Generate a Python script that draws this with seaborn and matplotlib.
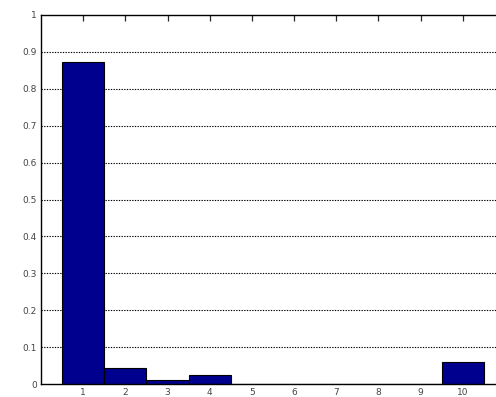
import numpy as np
import pandas as pd
import seaborn as sns
import matplotlib
matplotlib.use("Agg")
import matplotlib.pyplot as plt

# values
bins = [1, 2, 3, 4, 5, 6, 7, 8, 9, 10]
freq = [0.873, 0.043, 0.011, 0.024, 0.0, 0.0, 0.0, 0.0, 0.0, 0.059]
yticks = [0, 0.1, 0.2, 0.3, 0.4, 0.5, 0.6, 0.7, 0.8, 0.9, 1]
ytick_labels = ["0", "0.1", "0.2", "0.3", "0.4", "0.5", "0.6", "0.7", "0.8", "0.9", "1"]

df = pd.DataFrame({"bin": bins, "freq": freq})

sns.set_style("white")
plt.rcParams["font.family"] = ["DejaVu Sans"]

fig = plt.figure(figsize=(4.96, 3.97), dpi=100)
ax = fig.add_axes([41 / 496, 1 - 384 / 397, 464 / 496, 369 / 397])

sns.barplot(data=df, x="bin", y="freq", native_scale=True, width=1.0,
            color="#00008f", saturation=1, edgecolor="black", linewidth=0.8, ax=ax)

ax.set_xlim(0, 11)
ax.set_ylim(0, 1)
ax.set_xticks(bins)
ax.set_xticklabels([str(b) for b in bins])
ax.set_yticks(yticks)
ax.set_yticklabels(ytick_labels)
ax.set_xlabel("")
ax.set_ylabel("")

for y in yticks[1:-1]:
    ax.axhline(y, color="black", linestyle=(0, (1.2, 1.2)), linewidth=0.8, zorder=0)

ax.tick_params(direction="in", length=4, width=0.9, top=True, right=True,
               labelsize=6.5, labelcolor="#444444", pad=3)
for s in ax.spines.values():
    s.set_visible(True)
    s.set_color("black")
    s.set_linewidth(1.0)

fig.savefig("out.png", dpi=100)
